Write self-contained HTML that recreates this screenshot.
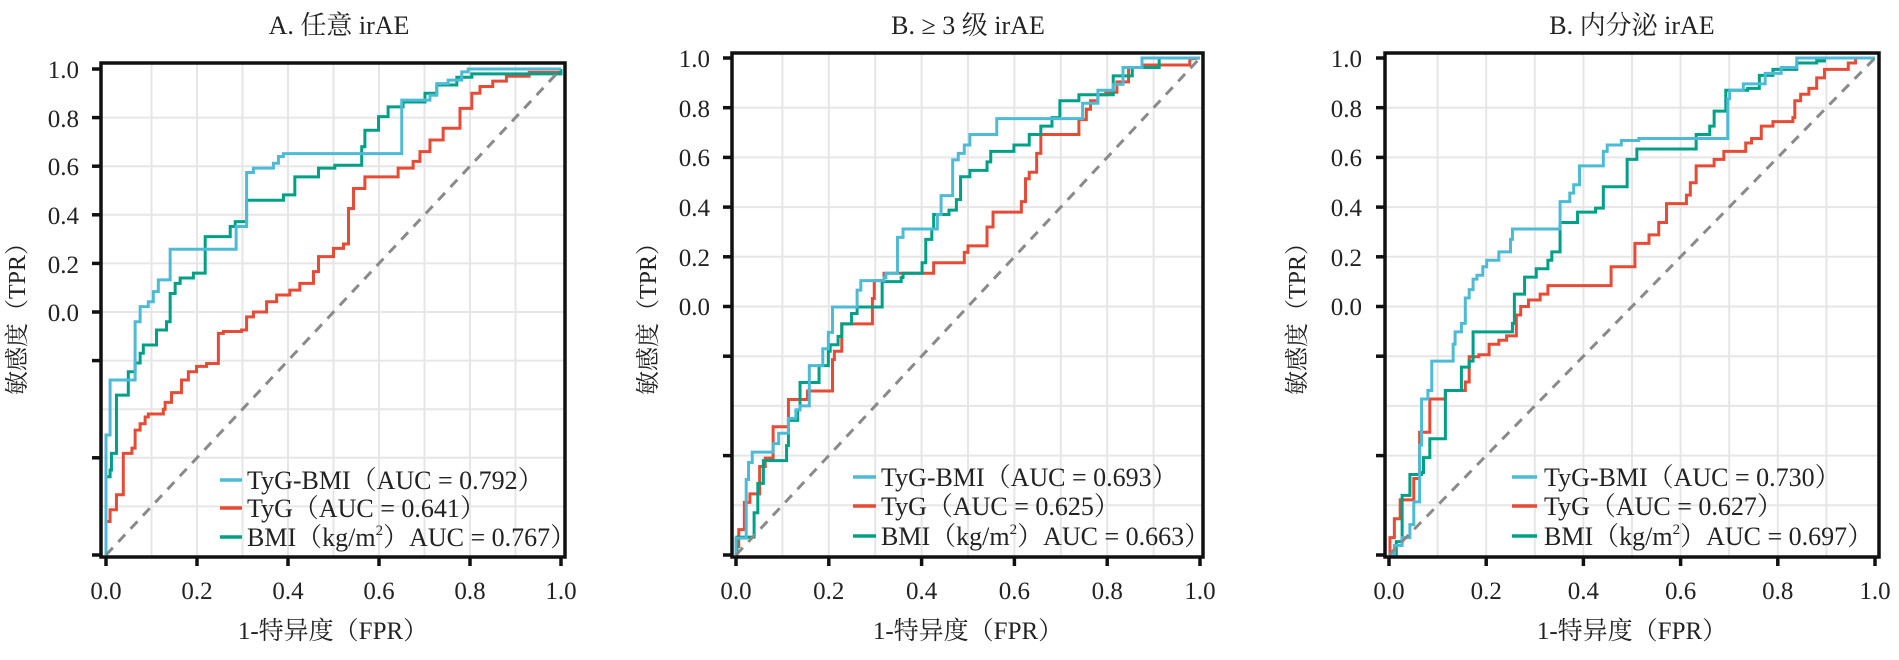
<!DOCTYPE html>
<html><head><meta charset="utf-8"><style>
html,body{margin:0;padding:0;background:#fff;}
svg{display:block;}
text{font-family:"Liberation Serif","Noto Serif CJK SC",serif;fill:#222;}
.g{fill:none;stroke:#e6e6e6;stroke-width:2;}
.c{fill:none;stroke-width:3;stroke-linejoin:miter;vector-effect:non-scaling-stroke;}
.b{stroke:#4DBBD5;}.r{stroke:#E64B35;}.n{stroke:#00A087;}
.d{fill:none;stroke:#8a8a8a;stroke-width:3;stroke-dasharray:10 8;}
.f{fill:none;stroke:#111;stroke-width:3.5;}
.t{stroke:#111;stroke-width:3.5;}
</style></head><body>
<svg width="1899" height="660" viewBox="0 0 1899 660" xmlns="http://www.w3.org/2000/svg">

<!-- ========== Panel A ========== -->
<path class="g" d="M151.5,63V557M197,63V557M242.5,63V557M288,63V557M333.5,63V557M379,63V557M424.5,63V557M470,63V557M515.5,63V557M101,506.4H565M101,457.8H565M101,409.2H565M101,360.6H565M101,312H565M101,263.4H565M101,214.8H565M101,166.2H565M101,117.6H565"/>
<g transform="translate(106,555) scale(455,-486)">
<polyline class="c r" points="0,0 0,0.069 0.009,0.069 0.009,0.093 0.023,0.093 0.023,0.124 0.038,0.124 0.038,0.209 0.057,0.209 0.057,0.22 0.064,0.22 0.064,0.257 0.075,0.257 0.075,0.27 0.086,0.27 0.086,0.284 0.093,0.284 0.093,0.29 0.126,0.29 0.126,0.3 0.13,0.3 0.13,0.314 0.144,0.314 0.144,0.334 0.166,0.334 0.166,0.36 0.181,0.36 0.181,0.377 0.199,0.377 0.199,0.388 0.221,0.388 0.221,0.394 0.247,0.394 0.247,0.456 0.258,0.456 0.258,0.46 0.298,0.46 0.298,0.463 0.309,0.463 0.309,0.49 0.324,0.49 0.324,0.5 0.353,0.5 0.353,0.521 0.375,0.521 0.375,0.535 0.404,0.535 0.404,0.545 0.426,0.545 0.426,0.559 0.456,0.559 0.456,0.583 0.467,0.583 0.467,0.614 0.5,0.614 0.5,0.631 0.522,0.631 0.522,0.64 0.533,0.64 0.533,0.713 0.544,0.713 0.544,0.754 0.569,0.754 0.569,0.778 0.642,0.778 0.642,0.796 0.675,0.796 0.675,0.81 0.69,0.81 0.69,0.83 0.712,0.83 0.712,0.854 0.741,0.854 0.741,0.878 0.778,0.878 0.778,0.919 0.804,0.919 0.804,0.95 0.822,0.95 0.822,0.964 0.85,0.964 0.85,0.975 0.88,0.975 0.88,0.985 0.93,0.985 0.93,0.993 1,0.993 1,1"/>
<polyline class="c n" points="0,0 0,0.161 0.009,0.161 0.009,0.175 0.012,0.175 0.012,0.209 0.023,0.209 0.023,0.329 0.049,0.329 0.049,0.377 0.064,0.377 0.064,0.395 0.075,0.395 0.075,0.415 0.082,0.415 0.082,0.432 0.111,0.432 0.111,0.463 0.133,0.463 0.133,0.48 0.141,0.48 0.141,0.538 0.152,0.538 0.152,0.559 0.163,0.559 0.163,0.57 0.192,0.57 0.192,0.58 0.218,0.58 0.218,0.655 0.273,0.655 0.273,0.676 0.284,0.676 0.284,0.686 0.309,0.686 0.309,0.73 0.39,0.73 0.39,0.741 0.415,0.741 0.415,0.778 0.467,0.778 0.467,0.796 0.503,0.796 0.503,0.802 0.562,0.802 0.562,0.84 0.569,0.84 0.569,0.874 0.599,0.874 0.599,0.902 0.62,0.902 0.62,0.922 0.653,0.922 0.653,0.932 0.701,0.932 0.701,0.95 0.727,0.95 0.727,0.967 0.771,0.967 0.771,0.983 0.804,0.983 0.804,0.99 1,0.99 1,1"/>
<polyline class="c b" points="0,0 0,0.161 0,0.247 0.009,0.247 0.009,0.36 0.064,0.36 0.064,0.48 0.075,0.48 0.075,0.511 0.093,0.511 0.093,0.521 0.104,0.521 0.104,0.542 0.115,0.542 0.115,0.566 0.141,0.566 0.141,0.629 0.286,0.629 0.286,0.676 0.309,0.676 0.309,0.787 0.324,0.787 0.324,0.796 0.368,0.796 0.368,0.806 0.379,0.806 0.379,0.82 0.39,0.82 0.39,0.826 0.65,0.826 0.65,0.936 0.712,0.936 0.712,0.946 0.727,0.946 0.727,0.97 0.752,0.97 0.752,0.977 0.782,0.977 0.782,0.994 0.796,0.994 0.796,1 1,1"/>
</g>
<line class="d" x1="106" y1="555" x2="561" y2="69"/>
<rect class="f" x="101" y="63" width="464" height="494"/>
<g class="t">
<line x1="92" y1="69" x2="101" y2="69"/><line x1="92" y1="117.6" x2="101" y2="117.6"/><line x1="92" y1="166.2" x2="101" y2="166.2"/><line x1="92" y1="214.8" x2="101" y2="214.8"/><line x1="92" y1="263.4" x2="101" y2="263.4"/><line x1="92" y1="312" x2="101" y2="312"/><line x1="92" y1="360.6" x2="101" y2="360.6"/><line x1="92" y1="457.8" x2="101" y2="457.8"/><line x1="92" y1="555" x2="101" y2="555"/>
<line x1="106" y1="557" x2="106" y2="566"/><line x1="197" y1="557" x2="197" y2="566"/><line x1="288" y1="557" x2="288" y2="566"/><line x1="379" y1="557" x2="379" y2="566"/><line x1="470" y1="557" x2="470" y2="566"/><line x1="561" y1="557" x2="561" y2="566"/>
</g>
<g font-size="25" text-anchor="end">
<text x="79" y="78">1.0</text><text x="79" y="127">0.8</text><text x="79" y="175">0.6</text><text x="79" y="224">0.4</text><text x="79" y="273">0.2</text><text x="79" y="321">0.0</text>
</g>
<g font-size="25" text-anchor="middle">
<text x="106" y="599">0.0</text><text x="197" y="599">0.2</text><text x="288" y="599">0.4</text><text x="379" y="599">0.6</text><text x="470" y="599">0.8</text><text x="561" y="599">1.0</text>
<text x="333" y="639">1-特异度（FPR）</text>
<text x="339" y="34" font-size="26">A. 任意 irAE</text>
</g>
<text transform="translate(25,313) rotate(-90)" text-anchor="middle" font-size="24">敏感度（TPR）</text>
<g font-size="26">
<line x1="220" y1="480" x2="242" y2="480" stroke="#4DBBD5" stroke-width="3.5"/>
<line x1="220" y1="508" x2="242" y2="508" stroke="#E64B35" stroke-width="3.5"/>
<line x1="220" y1="537" x2="242" y2="537" stroke="#00A087" stroke-width="3.5"/>
<text x="247" y="489">TyG-BMI（AUC = 0.792）</text>
<text x="247" y="517">TyG（AUC = 0.641）</text>
<text x="247" y="546">BMI（kg/m<tspan font-size="15" dy="-11">2</tspan><tspan dy="11">）AUC = 0.767）</tspan></text>
</g>

<!-- ========== Panel B ========== -->
<path class="g" d="M782.4,53V557M828.8,53V557M875.2,53V557M921.6,53V557M968,53V557M1014.4,53V557M1060.8,53V557M1107.2,53V557M1153.6,53V557M732,505.3H1203M732,455.6H1203M732,405.9H1203M732,356.2H1203M732,306.5H1203M732,256.8H1203M732,207.1H1203M732,157.4H1203M732,107.7H1203"/>
<g transform="translate(736,555) scale(464,-497)">
<polyline class="c r" points="0,0 0,0.017 0.006,0.017 0.006,0.051 0.018,0.051 0.018,0.106 0.03,0.106 0.03,0.123 0.051,0.123 0.051,0.178 0.063,0.178 0.063,0.195 0.08,0.195 0.08,0.258 0.113,0.258 0.113,0.313 0.154,0.313 0.154,0.33 0.208,0.33 0.208,0.393 0.212,0.393 0.212,0.41 0.228,0.41 0.228,0.465 0.294,0.465 0.294,0.516 0.298,0.516 0.298,0.552 0.319,0.552 0.319,0.567 0.426,0.567 0.426,0.588 0.492,0.588 0.492,0.609 0.5,0.609 0.5,0.622 0.541,0.622 0.541,0.66 0.554,0.66 0.554,0.69 0.615,0.69 0.615,0.711 0.624,0.711 0.624,0.757 0.632,0.757 0.632,0.77 0.648,0.77 0.648,0.808 0.657,0.808 0.657,0.846 0.739,0.846 0.739,0.876 0.755,0.876 0.755,0.897 0.764,0.897 0.764,0.914 0.78,0.914 0.78,0.926 0.797,0.926 0.797,0.931 0.821,0.931 0.821,0.952 0.846,0.952 0.846,0.981 0.879,0.981 0.879,0.986 0.978,0.986 0.978,0.998 1,1"/>
<polyline class="c n" points="0,0 0.002,0 0.002,0.036 0.039,0.036 0.039,0.085 0.047,0.085 0.047,0.144 0.059,0.144 0.059,0.19 0.109,0.19 0.109,0.22 0.113,0.22 0.113,0.271 0.133,0.271 0.133,0.292 0.138,0.292 0.138,0.347 0.179,0.347 0.179,0.381 0.199,0.381 0.199,0.41 0.203,0.41 0.203,0.423 0.22,0.423 0.22,0.44 0.228,0.44 0.228,0.465 0.249,0.465 0.249,0.486 0.261,0.486 0.261,0.499 0.315,0.499 0.315,0.55 0.356,0.55 0.356,0.558 0.36,0.558 0.36,0.567 0.401,0.567 0.401,0.588 0.409,0.588 0.409,0.635 0.422,0.635 0.422,0.656 0.426,0.656 0.426,0.685 0.459,0.685 0.459,0.694 0.475,0.694 0.475,0.715 0.484,0.715 0.484,0.761 0.504,0.761 0.504,0.774 0.541,0.774 0.541,0.791 0.549,0.791 0.549,0.812 0.599,0.812 0.599,0.825 0.632,0.825 0.632,0.846 0.657,0.846 0.657,0.863 0.681,0.863 0.681,0.88 0.698,0.88 0.698,0.914 0.739,0.914 0.739,0.926 0.813,0.926 0.813,0.964 0.854,0.964 0.854,0.981 0.912,0.981 0.912,1 1,1"/>
<polyline class="c b" points="0,0 0,0.034 0.022,0.034 0.022,0.152 0.027,0.152 0.027,0.186 0.035,0.186 0.035,0.207 0.08,0.207 0.08,0.224 0.092,0.224 0.092,0.245 0.113,0.245 0.113,0.275 0.129,0.275 0.129,0.292 0.138,0.292 0.138,0.3 0.158,0.3 0.158,0.381 0.187,0.381 0.187,0.415 0.199,0.415 0.199,0.448 0.208,0.448 0.208,0.499 0.261,0.499 0.261,0.533 0.269,0.533 0.269,0.552 0.319,0.552 0.319,0.558 0.323,0.558 0.323,0.567 0.348,0.567 0.348,0.639 0.36,0.639 0.36,0.656 0.434,0.656 0.434,0.685 0.442,0.685 0.442,0.723 0.467,0.723 0.467,0.795 0.479,0.795 0.479,0.808 0.492,0.808 0.492,0.825 0.504,0.825 0.504,0.846 0.562,0.846 0.562,0.878 0.747,0.878 0.747,0.909 0.78,0.909 0.78,0.935 0.813,0.935 0.813,0.947 0.834,0.947 0.834,0.981 0.875,0.981 0.875,1 1,1"/>
</g>
<line class="d" x1="736" y1="555" x2="1200" y2="58"/>
<rect class="f" x="732" y="53" width="471" height="504"/>
<g class="t">
<line x1="723" y1="58" x2="732" y2="58"/><line x1="723" y1="107.7" x2="732" y2="107.7"/><line x1="723" y1="157.4" x2="732" y2="157.4"/><line x1="723" y1="207.1" x2="732" y2="207.1"/><line x1="723" y1="256.8" x2="732" y2="256.8"/><line x1="723" y1="306.5" x2="732" y2="306.5"/><line x1="723" y1="356.2" x2="732" y2="356.2"/><line x1="723" y1="455.6" x2="732" y2="455.6"/><line x1="723" y1="555" x2="732" y2="555"/>
<line x1="736" y1="557" x2="736" y2="566"/><line x1="828.8" y1="557" x2="828.8" y2="566"/><line x1="921.6" y1="557" x2="921.6" y2="566"/><line x1="1014.4" y1="557" x2="1014.4" y2="566"/><line x1="1107.2" y1="557" x2="1107.2" y2="566"/><line x1="1200" y1="557" x2="1200" y2="566"/>
</g>
<g font-size="25" text-anchor="end">
<text x="710" y="67">1.0</text><text x="710" y="117">0.8</text><text x="710" y="166">0.6</text><text x="710" y="216">0.4</text><text x="710" y="266">0.2</text><text x="710" y="315">0.0</text>
</g>
<g font-size="25" text-anchor="middle">
<text x="736" y="599">0.0</text><text x="828.8" y="599">0.2</text><text x="921.6" y="599">0.4</text><text x="1014.4" y="599">0.6</text><text x="1107.2" y="599">0.8</text><text x="1200" y="599">1.0</text>
<text x="968" y="639">1-特异度（FPR）</text>
<text x="968" y="34" font-size="26">B. ≥ 3 级 irAE</text>
</g>
<text transform="translate(656,313) rotate(-90)" text-anchor="middle" font-size="24">敏感度（TPR）</text>
<g font-size="26">
<line x1="853" y1="477" x2="876" y2="477" stroke="#4DBBD5" stroke-width="3.5"/>
<line x1="853" y1="506" x2="876" y2="506" stroke="#E64B35" stroke-width="3.5"/>
<line x1="853" y1="536" x2="876" y2="536" stroke="#00A087" stroke-width="3.5"/>
<text x="881" y="486">TyG-BMI（AUC = 0.693）</text>
<text x="881" y="515">TyG（AUC = 0.625）</text>
<text x="881" y="545">BMI（kg/m<tspan font-size="15" dy="-11">2</tspan><tspan dy="11">）AUC = 0.663）</tspan></text>
</g>

<!-- ========== Panel C ========== -->
<path class="g" d="M1437.6,53V557M1486.2,53V557M1534.8,53V557M1583.4,53V557M1632,53V557M1680.6,53V557M1729.2,53V557M1777.8,53V557M1826.4,53V557M1385,505.3H1879M1385,455.6H1879M1385,405.9H1879M1385,356.2H1879M1385,306.5H1879M1385,256.8H1879M1385,207.1H1879M1385,157.4H1879M1385,107.7H1879"/>
<g transform="translate(1389,555) scale(486,-497)">
<polyline class="c r" points="0,0 0.002,0 0.002,0.035 0.011,0.035 0.011,0.073 0.023,0.073 0.023,0.111 0.051,0.111 0.051,0.154 0.063,0.154 0.063,0.247 0.084,0.247 0.084,0.314 0.116,0.314 0.116,0.331 0.157,0.331 0.157,0.348 0.165,0.348 0.165,0.399 0.185,0.399 0.185,0.403 0.206,0.403 0.206,0.424 0.226,0.424 0.226,0.432 0.242,0.432 0.242,0.441 0.262,0.441 0.262,0.483 0.271,0.483 0.271,0.5 0.287,0.5 0.287,0.513 0.311,0.513 0.311,0.525 0.327,0.525 0.327,0.542 0.457,0.542 0.457,0.58 0.506,0.58 0.506,0.627 0.535,0.627 0.535,0.644 0.555,0.644 0.555,0.669 0.571,0.669 0.571,0.707 0.612,0.707 0.612,0.724 0.62,0.724 0.62,0.749 0.632,0.749 0.632,0.783 0.669,0.783 0.669,0.796 0.689,0.796 0.689,0.812 0.734,0.812 0.734,0.829 0.746,0.829 0.746,0.838 0.766,0.838 0.766,0.863 0.79,0.863 0.79,0.872 0.831,0.872 0.831,0.88 0.835,0.88 0.835,0.914 0.847,0.914 0.847,0.927 0.864,0.927 0.864,0.939 0.88,0.939 0.88,0.96 0.896,0.96 0.896,0.977 0.945,0.977 0.945,0.99 0.96,0.99 0.96,1 1,1"/>
<polyline class="c n" points="0,0 0.015,0 0.015,0.027 0.027,0.027 0.027,0.12 0.043,0.12 0.043,0.162 0.067,0.162 0.067,0.166 0.071,0.166 0.071,0.196 0.084,0.196 0.084,0.234 0.116,0.234 0.116,0.331 0.149,0.331 0.149,0.378 0.165,0.378 0.165,0.39 0.173,0.39 0.173,0.449 0.254,0.449 0.254,0.466 0.258,0.466 0.258,0.525 0.279,0.525 0.279,0.559 0.303,0.559 0.303,0.576 0.327,0.576 0.327,0.593 0.335,0.593 0.335,0.61 0.352,0.61 0.352,0.669 0.388,0.669 0.388,0.69 0.425,0.69 0.425,0.698 0.441,0.698 0.441,0.741 0.49,0.741 0.49,0.796 0.51,0.796 0.51,0.817 0.632,0.817 0.632,0.846 0.66,0.846 0.66,0.863 0.669,0.863 0.669,0.893 0.693,0.893 0.693,0.935 0.738,0.935 0.738,0.939 0.762,0.939 0.762,0.965 0.79,0.965 0.79,0.977 0.839,0.977 0.839,0.99 0.88,0.99 0.88,0.994 0.896,0.994 0.896,1 1,1"/>
<polyline class="c b" points="0,0 0.011,0 0.011,0.019 0.027,0.019 0.027,0.035 0.043,0.035 0.043,0.061 0.051,0.061 0.051,0.107 0.063,0.107 0.063,0.221 0.067,0.221 0.067,0.314 0.08,0.314 0.08,0.331 0.088,0.331 0.088,0.39 0.132,0.39 0.132,0.424 0.136,0.424 0.136,0.449 0.149,0.449 0.149,0.466 0.157,0.466 0.157,0.517 0.165,0.517 0.165,0.534 0.173,0.534 0.173,0.555 0.181,0.555 0.181,0.563 0.193,0.563 0.193,0.58 0.201,0.58 0.201,0.593 0.226,0.593 0.226,0.61 0.25,0.61 0.25,0.635 0.254,0.635 0.254,0.656 0.352,0.656 0.352,0.711 0.372,0.711 0.372,0.728 0.38,0.728 0.38,0.745 0.392,0.745 0.392,0.783 0.441,0.783 0.441,0.812 0.449,0.812 0.449,0.825 0.478,0.825 0.478,0.834 0.514,0.834 0.514,0.838 0.697,0.838 0.697,0.918 0.701,0.918 0.701,0.935 0.729,0.935 0.729,0.948 0.774,0.948 0.774,0.969 0.807,0.969 0.807,0.981 0.839,0.981 0.839,1 1,1"/>
</g>
<line class="d" x1="1389" y1="555" x2="1875" y2="58"/>
<rect class="f" x="1385" y="53" width="494" height="504"/>
<g class="t">
<line x1="1376" y1="58" x2="1385" y2="58"/><line x1="1376" y1="107.7" x2="1385" y2="107.7"/><line x1="1376" y1="157.4" x2="1385" y2="157.4"/><line x1="1376" y1="207.1" x2="1385" y2="207.1"/><line x1="1376" y1="256.8" x2="1385" y2="256.8"/><line x1="1376" y1="306.5" x2="1385" y2="306.5"/><line x1="1376" y1="356.2" x2="1385" y2="356.2"/><line x1="1376" y1="455.6" x2="1385" y2="455.6"/><line x1="1376" y1="555" x2="1385" y2="555"/>
<line x1="1389" y1="557" x2="1389" y2="566"/><line x1="1486.2" y1="557" x2="1486.2" y2="566"/><line x1="1583.4" y1="557" x2="1583.4" y2="566"/><line x1="1680.6" y1="557" x2="1680.6" y2="566"/><line x1="1777.8" y1="557" x2="1777.8" y2="566"/><line x1="1875" y1="557" x2="1875" y2="566"/>
</g>
<g font-size="25" text-anchor="end">
<text x="1362" y="67">1.0</text><text x="1362" y="117">0.8</text><text x="1362" y="166">0.6</text><text x="1362" y="216">0.4</text><text x="1362" y="266">0.2</text><text x="1362" y="315">0.0</text>
</g>
<g font-size="25" text-anchor="middle">
<text x="1389" y="599">0.0</text><text x="1486.2" y="599">0.2</text><text x="1583.4" y="599">0.4</text><text x="1680.6" y="599">0.6</text><text x="1777.8" y="599">0.8</text><text x="1875" y="599">1.0</text>
<text x="1632" y="639">1-特异度（FPR）</text>
<text x="1632" y="34" font-size="26">B. 内分泌 irAE</text>
</g>
<text transform="translate(1305,313) rotate(-90)" text-anchor="middle" font-size="24">敏感度（TPR）</text>
<g font-size="26">
<line x1="1512" y1="477" x2="1537" y2="477" stroke="#4DBBD5" stroke-width="3.5"/>
<line x1="1512" y1="506" x2="1537" y2="506" stroke="#E64B35" stroke-width="3.5"/>
<line x1="1512" y1="536" x2="1537" y2="536" stroke="#00A087" stroke-width="3.5"/>
<text x="1544" y="486">TyG-BMI（AUC = 0.730）</text>
<text x="1544" y="515">TyG（AUC = 0.627）</text>
<text x="1544" y="545">BMI（kg/m<tspan font-size="15" dy="-11">2</tspan><tspan dy="11">）AUC = 0.697）</tspan></text>
</g>
</svg>
</body></html>
